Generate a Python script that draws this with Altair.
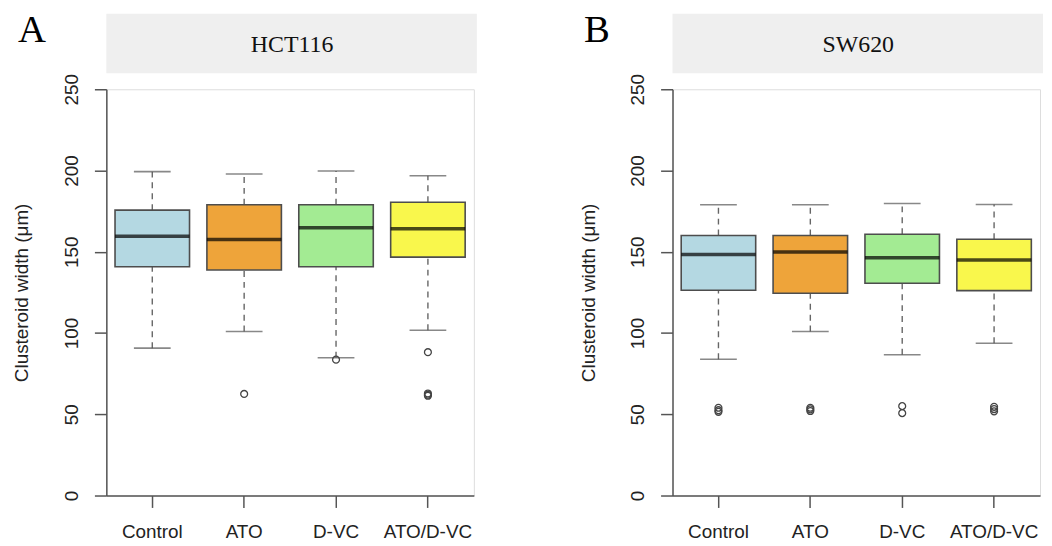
import altair as alt
import pandas as pd

groups = ["Control", "ATO", "D-VC", "ATO/D-VC"]
colors = ["#B4D8E2", "#EEA43A", "#A3EB93", "#F9F74C"]

# HCT116 box statistics
hct_lo = [90.7, 100.9, 84.8, 101.7]
hct_q1 = [140.8, 138.8, 140.8, 146.7]
hct_med = [159.5, 157.5, 164.8, 164.2]
hct_q3 = [175.6, 178.9, 178.9, 180.5]
hct_hi = [199.3, 197.9, 199.7, 196.8]
hct_out = [[], [62.5], [83.6], [88.2, 62.8, 62.0, 61.4]]

# SW620 box statistics
sw_lo = [83.9, 100.9, 86.6, 93.7]
sw_q1 = [126.3, 124.5, 130.6, 126.1]
sw_med = [148.3, 149.8, 146.3, 145.0]
sw_q3 = [160.0, 160.0, 160.8, 157.7]
sw_hi = [178.9, 178.9, 179.7, 179.1]
sw_out = [[51.5, 52.5, 54.0], [52.0, 53.0, 54.0], [50.7, 55.0], [51.8, 53.2, 54.6]]

y_ticks = [0, 50, 100, 150, 200, 250]
y_title = "Clusteroid width (\u03bcm)"

W, H = 370, 409
SANS = "Liberation Sans"
SERIF = "Liberation Serif"


def make_panel(name, letter, lo, q1, med, q3, hi, outs):
    df = pd.DataFrame({"group": groups, "lo": lo, "q1": q1, "med": med, "q3": q3, "hi": hi})
    rows = [(g, v) for g, vals in zip(groups, outs) for v in vals]
    odf = pd.DataFrame(rows, columns=["group", "value"])
    lab = pd.DataFrame({"label": [name], "letter": [letter]})

    x_axis = alt.Axis(
        labelAngle=0, labelFont=SANS, labelFontSize=19, labelColor="#222",
        labelPadding=15, tickSize=12, tickColor="#555", tickWidth=1.5,
        domainColor="#555", domainWidth=1.5, title=None, grid=False,
    )
    y_axis = alt.Axis(
        values=y_ticks, labelAngle=270, labelAlign="center", labelBaseline="middle",
        labelFont=SANS, labelFontSize=19, labelColor="#222", labelPadding=23,
        tickSize=12, tickColor="#555", tickWidth=1.5, domainColor="#555", domainWidth=1.5,
        grid=False, title=y_title, titleFont=SANS, titleFontSize=19,
        titleFontWeight="normal", titleColor="#222", titleAngle=270,
        titleX=-85, titleY=H / 2, titleAlign="center", titleBaseline="middle",
    )
    xs = alt.Scale(domain=groups, paddingInner=0, paddingOuter=0)
    ys = alt.Scale(domain=[0, 250], nice=False, zero=False)
    X = alt.X("group:N", sort=groups, scale=xs, axis=x_axis, title=None)

    def Y(f):
        return alt.Y(f"{f}:Q", scale=ys, axis=y_axis, title=y_title)

    base = alt.Chart(df)
    whisk_up = base.mark_rule(color="#666", strokeWidth=1.4, strokeDash=[6, 5]).encode(
        x=X, y=Y("q3"), y2="hi")
    whisk_dn = base.mark_rule(color="#666", strokeWidth=1.4, strokeDash=[6, 5]).encode(
        x=X, y=Y("lo"), y2="q1")
    cap_up = base.mark_tick(color="#555", size=37, thickness=1.6).encode(x=X, y=Y("hi"))
    cap_dn = base.mark_tick(color="#555", size=37, thickness=1.6).encode(x=X, y=Y("lo"))
    box = base.mark_bar(size=75, stroke="#4d4d4d", strokeWidth=1.6).encode(
        x=X, y=Y("q1"), y2="q3",
        color=alt.Color("group:N", scale=alt.Scale(domain=groups, range=colors), legend=None),
    )
    median = base.mark_tick(color="black", size=75, thickness=3.5).encode(x=X, y=Y("med"))
    pts = alt.Chart(odf).mark_point(shape="circle", filled=False, size=48, color="#444",
                                    strokeWidth=1.3, opacity=1).encode(x=X, y=Y("value"))
    strip = alt.Chart(lab).mark_rect(color="#EFEFEF").encode(
        x=alt.value(0), x2=alt.value(373), y=alt.value(-76), y2=alt.value(-16))
    strip_txt = alt.Chart(lab).mark_text(font=SERIF, fontSize=24, color="#111",
                                         align="center", baseline="middle").encode(
        x=alt.value(187), y=alt.value(-45), text="label:N")
    letter_txt = alt.Chart(lab).mark_text(font=SERIF, fontSize=39, color="#000",
                                          align="left", baseline="alphabetic").encode(
        x=alt.value(-89), y=alt.value(-48), text="letter:N")

    return alt.layer(strip, strip_txt, letter_txt, whisk_up, whisk_dn, cap_up, cap_dn,
                     box, median, pts).properties(width=W, height=H)


left = make_panel("HCT116", "A", hct_lo, hct_q1, hct_med, hct_q3, hct_hi, hct_out)
right = make_panel("SW620", "B", sw_lo, sw_q1, sw_med, sw_q3, sw_hi, sw_out)

chart = alt.hconcat(left, right, spacing=200, bounds="flush").properties(
    padding={"left": 4, "top": 0, "right": 0, "bottom": 0}
).configure_view(strokeWidth=0).configure(background="white")

chart.save("out.html", embed_options={"renderer": "svg", "actions": False})
